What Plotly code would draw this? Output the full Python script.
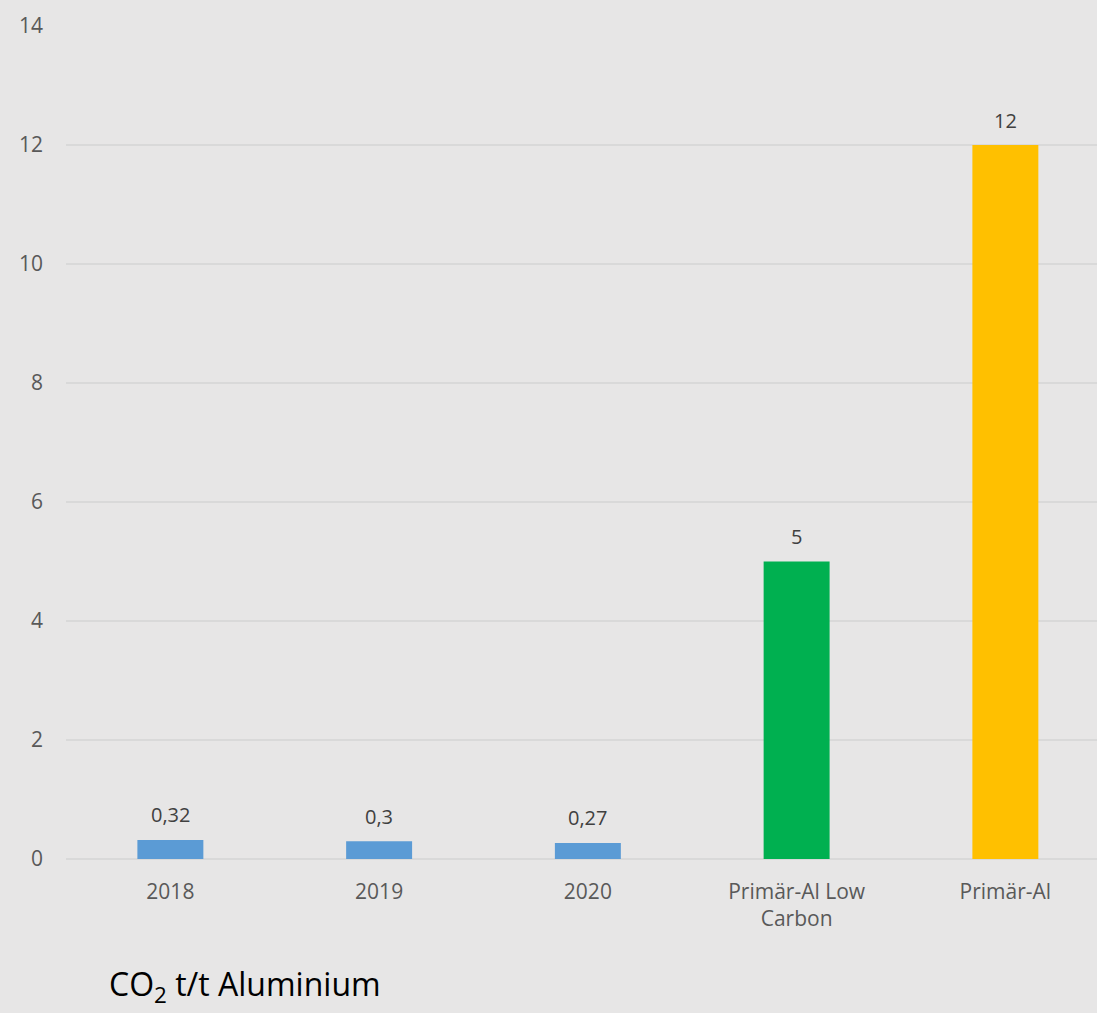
import plotly.graph_objects as go

categories = ["2018", "2019", "2020", "Primär-Al Low<br>Carbon", "Primär-Al"]
values = [0.32, 0.3, 0.27, 5, 12]
label_texts = ["0,32", "0,3", "0,27", "5", "12"]
bar_colors = ["#5b9bd5", "#5b9bd5", "#5b9bd5", "#00b050", "#ffc000"]
y_ticks = [0, 2, 4, 6, 8, 10, 12, 14]

BG = "#e7e6e6"
GRID = "#d9d9d9"
TXT = "#595959"
FONT = "Open Sans"

fig = go.Figure()
fig.add_trace(go.Bar(
    x=categories, y=values,
    marker=dict(color=bar_colors, line=dict(width=0)),
    width=0.316,
    hoverinfo="skip",
))

for i, (v, t) in enumerate(zip(values, label_texts)):
    fig.add_annotation(
        x=i, y=v, text=t, showarrow=False,
        yanchor="middle", yshift=25,
        font=dict(family=FONT, size=20, color="#404040"),
    )

fig.add_annotation(
    xref="paper", yref="paper", x=(107 - 66) / 1031, y=-(1012 - 859) / 833,
    xanchor="left", yanchor="bottom",
    text="CO<sub>2</sub> t/t Aluminium", showarrow=False,
    font=dict(family=FONT, size=32, color="#000000"),
)

fig.update_layout(
    width=1097, height=1013,
    margin=dict(l=66, r=0, t=26, b=154),
    paper_bgcolor=BG, plot_bgcolor=BG,
    showlegend=False,
    font=dict(family=FONT, size=20, color=TXT),
    separators=",.",
)
fig.update_xaxes(
    type="category", range=[-0.5, 4.439],
    showgrid=False, showline=False, zeroline=False,
    ticks="", ticklabelstandoff=18,
    tickfont=dict(family=FONT, size=21, color=TXT),
)
fig.update_yaxes(
    range=[0, 14], tickvals=y_ticks,
    showgrid=True, gridcolor=GRID, gridwidth=1.5,
    zeroline=True, zerolinecolor=GRID, zerolinewidth=1.5,
    showline=False, ticks="", ticklabelstandoff=22,
    tickfont=dict(family=FONT, size=21, color=TXT),
)

fig.write_html("out.html")
